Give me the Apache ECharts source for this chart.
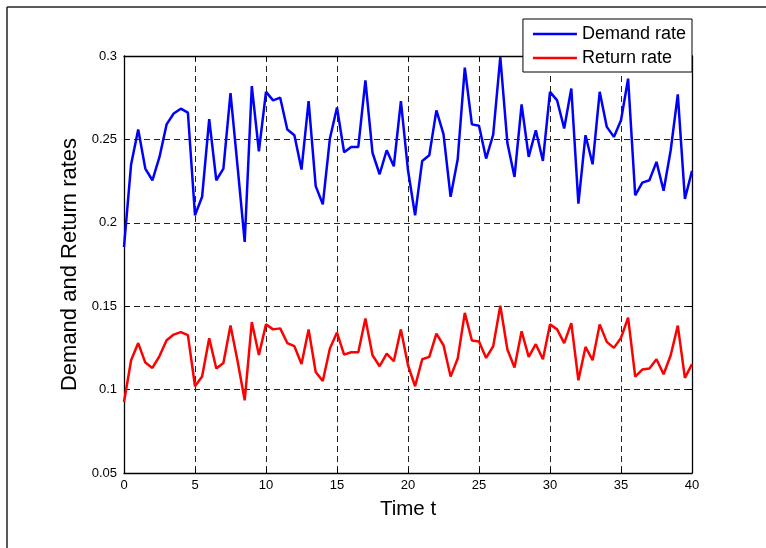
<!DOCTYPE html>
<html>
<head>
<meta charset="utf-8">
<script src="https://cdn.jsdelivr.net/npm/echarts@6/dist/echarts.min.js"></script>
<style>
html,body{margin:0;padding:0;background:#fff;}
#c{width:766px;height:548px;}
</style>
</head>
<body>
<div id="c"></div>
<script>
var timeT = [0,0.5,1,1.5,2,2.5,3,3.5,4,4.5,5,5.5,6,6.5,7,7.5,8,8.5,9,9.5,
  10,10.5,11,11.5,12,12.5,13,13.5,14,14.5,15,15.5,16,16.5,17,17.5,18,18.5,19,19.5,
  20,20.5,21,21.5,22,22.5,23,23.5,24,24.5,25,25.5,26,26.5,27,27.5,28,28.5,29,29.5,
  30,30.5,31,31.5,32,32.5,33,33.5,34,34.5,35,35.5,36,36.5,37,37.5,38,38.5,39,39.5,40];
var demandRate = [0.1855,0.235,0.256,0.2325,0.2255,0.2395,0.259,0.2655,0.2684,0.266,
  0.2045,0.2156,0.2622,0.2255,0.2325,0.2778,0.2335,0.1885,0.282,0.2429,
  0.2785,0.2734,0.275,0.2559,0.2525,0.2319,0.2729,0.222,0.2111,0.2505,
  0.2691,0.2423,0.2455,0.2455,0.2854,0.242,0.2291,0.2435,0.2339,0.2729,
  0.2315,0.2045,0.2371,0.2405,0.2674,0.2531,0.2156,0.2381,0.293,0.259,
  0.2582,0.2385,0.2529,0.2994,0.2478,0.2275,0.271,0.2395,0.2555,0.2371,
  0.2785,0.2734,0.2565,0.2805,0.2115,0.2525,0.2351,0.2785,0.2575,0.2515,
  0.2615,0.2864,0.2165,0.2241,0.2255,0.2365,0.2192,0.2435,0.277,0.2143,
  0.2311];
var returnRate = [0.0926,0.1176,0.1279,0.1162,0.113,0.1201,0.1296,0.133,0.1345,0.1327,
  0.102,0.1078,0.1308,0.1126,0.116,0.1384,0.117,0.0936,0.1405,0.1208,
  0.1391,0.1361,0.1367,0.1279,0.126,0.1154,0.1361,0.1106,0.1052,0.1246,
  0.1342,0.121,0.1224,0.1224,0.1426,0.1206,0.114,0.1216,0.117,0.1361,
  0.1146,0.102,0.1182,0.1196,0.1336,0.1266,0.1078,0.1186,0.146,0.1294,
  0.1288,0.119,0.126,0.1503,0.124,0.1132,0.135,0.1196,0.1272,0.1182,
  0.1391,0.1361,0.1279,0.1399,0.1056,0.1256,0.1176,0.1391,0.1286,0.125,
  0.131,0.1431,0.1078,0.112,0.1126,0.1182,0.1092,0.1206,0.1384,0.107,
  0.1153];
var seriesNames = ['Demand rate', 'Return rate'];
var xTitle = 'Time t';
var yTitle = 'Demand and Return rates';

function pairs(xs, ys){ return xs.map(function(x,i){ return [x, ys[i]]; }); }

var font = 'Arial, "Liberation Sans", Helvetica, sans-serif';
var chart = echarts.init(document.getElementById('c'), null, {renderer:'canvas'});
var gridDash = {type:[6,4], color:'#222', width:1};
chart.setOption({
  animation:false,
  backgroundColor:'#fff',
  textStyle:{fontFamily:font},
  grid:{left:124, right:74, top:56, bottom:75, containLabel:false},
  legend:{
    orient:'vertical', right:74, top:19,
    backgroundColor:'#fff', borderColor:'#000', borderWidth:1,
    padding:[5,6,4,10], itemGap:4, itemWidth:44, itemHeight:2.5,
    icon:'rect',
    textStyle:{fontSize:18, color:'#000', fontFamily:font, lineHeight:20},
    data:seriesNames
  },
  xAxis:[{
    type:'value', min:0, max:40, interval:5,
    name:xTitle, nameLocation:'middle', nameGap:26,
    nameTextStyle:{fontSize:20.5, color:'#000', fontFamily:font},
    axisLine:{show:true, onZero:false, lineStyle:{color:'#000', width:1.3}},
    axisTick:{show:true, inside:true, length:5, lineStyle:{color:'#000'}},
    axisLabel:{fontSize:13, color:'#000', margin:6},
    splitLine:{show:true, lineStyle:gridDash}
  },{
    type:'value', min:0, max:40, interval:5, position:'top',
    axisLine:{show:true, onZero:false, lineStyle:{color:'#000', width:1.3}},
    axisTick:{show:true, inside:true, length:5, lineStyle:{color:'#000'}},
    axisLabel:{show:false}, splitLine:{show:false}
  }],
  yAxis:[{
    type:'value', min:0.05, max:0.3, interval:0.05,
    name:yTitle, nameLocation:'middle', nameGap:41,
    nameTextStyle:{fontSize:22, color:'#000', fontFamily:font},
    axisLine:{show:true, onZero:false, lineStyle:{color:'#000', width:1.3}},
    axisTick:{show:true, inside:true, length:5, lineStyle:{color:'#000'}},
    axisLabel:{fontSize:13, color:'#000', margin:7,
      formatter:function(v){ return String(+v.toFixed(2)); }},
    splitLine:{show:true, lineStyle:gridDash}
  },{
    type:'value', min:0.05, max:0.3, interval:0.05, position:'right',
    axisLine:{show:true, onZero:false, lineStyle:{color:'#000', width:1.3}},
    axisTick:{show:true, inside:true, length:5, lineStyle:{color:'#000'}},
    axisLabel:{show:false}, splitLine:{show:false}
  }],
  series:[{
    name:seriesNames[0], type:'line', data:pairs(timeT, demandRate),
    symbol:'none', lineStyle:{color:'#0000ff', width:2.5}, itemStyle:{color:'#0000ff'}, z:3
  },{
    name:seriesNames[1], type:'line', data:pairs(timeT, returnRate),
    symbol:'none', lineStyle:{color:'#ff0000', width:2.5}, itemStyle:{color:'#ff0000'}, z:3
  }],
  graphic:[
    {type:'line', shape:{x1:7, y1:7, x2:766, y2:7}, style:{stroke:'#222', lineWidth:1.5}},
    {type:'line', shape:{x1:7, y1:7, x2:7, y2:548}, style:{stroke:'#222', lineWidth:1.5}}
  ]
});
</script>
</body>
</html>
